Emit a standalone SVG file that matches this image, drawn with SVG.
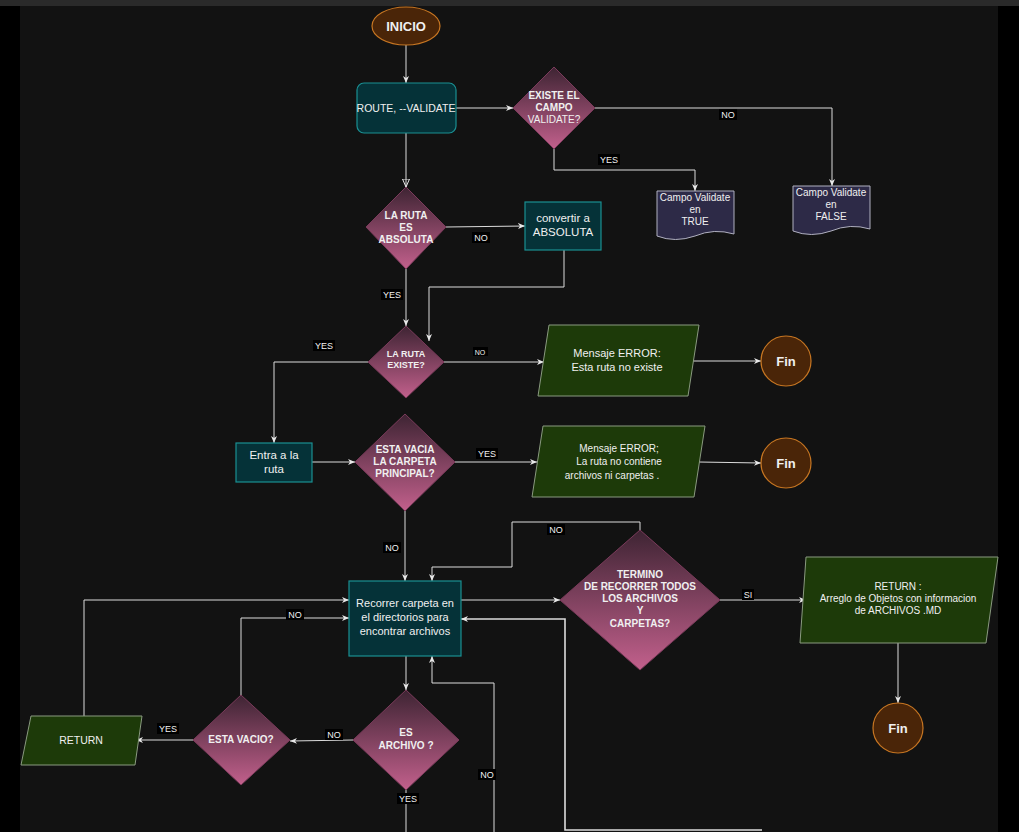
<svg xmlns="http://www.w3.org/2000/svg" width="1019" height="832" viewBox="0 0 1019 832">
<defs>
<linearGradient id="dg" x1="0" y1="0" x2="0" y2="1"><stop offset="0" stop-color="#3e2433"/><stop offset="1" stop-color="#c2608c"/></linearGradient>
<marker id="ar" markerWidth="8" markerHeight="8" refX="7" refY="4" orient="auto" markerUnits="userSpaceOnUse"><path d="M0,1 L7,4 L0,7 L2,4 Z" fill="#e8e8e8"/></marker>
<marker id="ah" markerWidth="10" markerHeight="10" refX="8" refY="4" orient="auto" markerUnits="userSpaceOnUse"><path d="M0,0.5 L8,4 L0,7.5 Z" fill="none" stroke="#e8e8e8"/></marker>
<style>
text{font-family:"Liberation Sans",Arial,sans-serif;fill:#f0f0f0;text-anchor:middle}
.dia{fill:url(#dg);stroke:#7a3a5a;stroke-width:1}
.box{fill:#053238;stroke:#1a8f92;stroke-width:1.2}
.par{fill:#1d3a09;stroke:#8a9a80;stroke-width:1}
.doc{fill:#2d2a47;stroke:#b0b0c0;stroke-width:1}
.term{fill:#4a2508;stroke:#c77622;stroke-width:1.2}
.b{font-weight:bold}
.c path{fill:none;stroke:#dcdcdc;stroke-width:1;marker-end:url(#ar)}
.lb rect{fill:#000}
.lb text{font-size:9px}
</style>
</defs>
<rect width="1019" height="832" fill="#000"/>
<rect x="20" y="0" width="978" height="832" fill="#121212"/>
<rect x="0" y="0" width="1019" height="6" fill="#2a2a2a"/>

<g class="c">
<path d="M406,45 V83"/>
<path d="M456,108 H513"/>
<path d="M595,108 H832 V186"/>
<path d="M554,149 V170 H695 V191"/>
<path d="M406,133 V187" style="marker-end:url(#ah)"/>
<path d="M446,227 L525,226"/>
<path d="M564,250 V287 H429 V341"/>
<path d="M406,269 V326"/>
<path d="M444,362 H544"/>
<path d="M693,361 H761"/>
<path d="M368,362 H274 V443"/>
<path d="M312,462 H355"/>
<path d="M455,462 H537"/>
<path d="M699,462 L761,463"/>
<path d="M405,511 V581"/>
<path d="M640,530 V522 H512 V567 H432 V581"/>
<path d="M461,600 H560"/>
<path d="M720,600 H806"/>
<path d="M898,643 V703"/>
<path d="M406,656 V690"/>
<path d="M353,740 L290,741"/>
<path d="M193,740 H136"/>
<path d="M84,716 V600 H349"/>
<path d="M241,695 V618 H349"/>
<path d="M406,790 V832" style="marker-end:none"/>
<path d="M494,832 V683 H432 V656"/>
<path d="M762,830 H565 V619 H461" style="stroke-width:1.6"/>
</g>

<g class="lb">
<rect x="719" y="109" width="18" height="11"/><text x="728" y="118">NO</text>
<rect x="598" y="154" width="22" height="11"/><text x="609" y="163">YES</text>
<rect x="472" y="232" width="18" height="11"/><text x="481" y="241">NO</text>
<rect x="381" y="289" width="22" height="11"/><text x="392" y="298">YES</text>
<rect x="473" y="347" width="15" height="9"/><text x="480" y="355" style="font-size:7px">NO</text>
<rect x="313" y="340" width="22" height="11"/><text x="324" y="349">YES</text>
<rect x="476" y="448" width="22" height="11"/><text x="487" y="457">YES</text>
<rect x="383" y="542" width="18" height="11"/><text x="392" y="551">NO</text>
<rect x="547" y="524" width="18" height="11"/><text x="556" y="533">NO</text>
<rect x="742" y="589" width="12" height="11"/><text x="748" y="598">SI</text>
<rect x="286" y="609" width="18" height="11"/><text x="295" y="618">NO</text>
<rect x="325" y="729" width="18" height="11"/><text x="334" y="738">NO</text>
<rect x="157" y="723" width="22" height="11"/><text x="168" y="732">YES</text>
<rect x="478" y="769" width="18" height="11"/><text x="487" y="778">NO</text>
<rect x="397" y="793" width="22" height="11"/><text x="408" y="802">YES</text>
</g>

<g id="inicio"><ellipse class="term" cx="406" cy="26" rx="34" ry="19"/><text class="b" x="406" y="31" font-size="13">INICIO</text></g>
<g id="route"><rect class="box" x="357" y="83" width="99" height="50" rx="7"/><text x="406" y="112" font-size="10.5">ROUTE, --VALIDATE</text></g>
<g id="existe-campo"><path class="dia" d="M554,67 L595,108 L554,149 L513,108 Z"/><text x="554" y="99" font-size="10" class="b">EXISTE EL</text><text x="554" y="111" font-size="10" class="b">CAMPO</text><text x="554" y="123" font-size="10">VALIDATE?</text></g>
<g id="doc-true"><path class="doc" d="M657,191 H734 V234 Q714,228 695,236 Q675,243 657,236 Z"/><text x="695" y="201" font-size="10">Campo Validate</text><text x="695" y="213" font-size="10">en</text><text x="695" y="225" font-size="10">TRUE</text></g>
<g id="doc-false"><path class="doc" d="M793,186 H870 V229 Q850,223 831,231 Q811,238 793,231 Z"/><text x="831" y="196" font-size="10">Campo Validate</text><text x="831" y="208" font-size="10">en</text><text x="831" y="220" font-size="10">FALSE</text></g>
<g id="absoluta"><path class="dia" d="M406,187 L446,227 L406,269 L366,227 Z"/><text x="406" y="219" font-size="10" class="b">LA RUTA</text><text x="406" y="231" font-size="10" class="b">ES</text><text x="406" y="243" font-size="10" class="b">ABSOLUTA</text></g>
<g id="convertir"><rect class="box" x="525" y="202" width="76" height="48"/><text x="563" y="222" font-size="11.5">convertir a</text><text x="563" y="236" font-size="11.5">ABSOLUTA</text></g>
<g id="ruta-existe"><path class="dia" d="M406,326 L444,362 L406,398 L368,362 Z"/><text x="406" y="357" font-size="9" class="b">LA RUTA</text><text x="406" y="368" font-size="9" class="b">EXISTE?</text></g>
<g id="error1"><path class="par" d="M549,325 H699 L688,396 H538 Z"/><text x="617" y="357" font-size="11">Mensaje ERROR:</text><text x="617" y="371" font-size="11">Esta ruta no existe</text></g>
<g id="fin1"><circle class="term" cx="786" cy="361" r="25"/><text class="b" x="786" y="366" font-size="13">Fin</text></g>
<g id="entra"><rect class="box" x="236" y="443" width="76" height="39"/><text x="274" y="459" font-size="11.5">Entra a la</text><text x="274" y="473" font-size="11.5">ruta</text></g>
<g id="vacia"><path class="dia" d="M405,414 L455,462 L405,511 L355,462 Z"/><text x="405" y="453" font-size="10" class="b">ESTA VACIA</text><text x="405" y="465" font-size="10" class="b">LA CARPETA</text><text x="405" y="477" font-size="10" class="b">PRINCIPAL?</text></g>
<g id="error2"><path class="par" d="M543,426 H705 L694,497 H532 Z"/><text x="619" y="452" font-size="10">Mensaje ERROR;</text><text x="619" y="465" font-size="10">La ruta no contiene</text><text x="612" y="479" font-size="10">archivos  ni carpetas .</text></g>
<g id="fin2"><circle class="term" cx="786" cy="463" r="25"/><text class="b" x="786" y="468" font-size="13">Fin</text></g>
<g id="recorrer"><rect class="box" x="349" y="581" width="112" height="75"/><text x="405" y="607" font-size="11">Recorrer carpeta en</text><text x="405" y="621" font-size="11">el directorios  para</text><text x="405" y="635" font-size="11">encontrar archivos</text></g>
<g id="termino"><path class="dia" d="M640,530 L720,600 L640,670 L560,600 Z"/><text x="640" y="578" font-size="10" class="b">TERMINO</text><text x="640" y="590" font-size="10" class="b">DE RECORRER TODOS</text><text x="640" y="602" font-size="10" class="b">LOS ARCHIVOS</text><text x="640" y="614" font-size="10" class="b">Y</text><text x="640" y="627" font-size="10" class="b">CARPETAS?</text></g>
<g id="return-md"><path class="par" d="M806,557 H998 L986,643 H800 Z"/><text x="898" y="590" font-size="10">RETURN :</text><text x="898" y="602" font-size="10">Arreglo de Objetos con informacion</text><text x="898" y="614" font-size="10">de ARCHIVOS .MD</text></g>
<g id="fin3"><circle class="term" cx="898" cy="728" r="25"/><text class="b" x="898" y="733" font-size="13">Fin</text></g>
<g id="es-archivo"><path class="dia" d="M406,690 L459,740 L406,790 L353,740 Z"/><text x="406" y="736" font-size="10" class="b">ES</text><text x="406" y="749" font-size="10" class="b">ARCHIVO ?</text></g>
<g id="esta-vacio"><path class="dia" d="M241,695 L290,740 L241,785 L193,740 Z"/><text x="241" y="743" font-size="10" class="b">ESTA VACIO?</text></g>
<g id="return"><path class="par" d="M31,716 H142 L135,765 H21 Z"/><text x="81" y="744" font-size="10.5">RETURN</text></g>
</svg>
